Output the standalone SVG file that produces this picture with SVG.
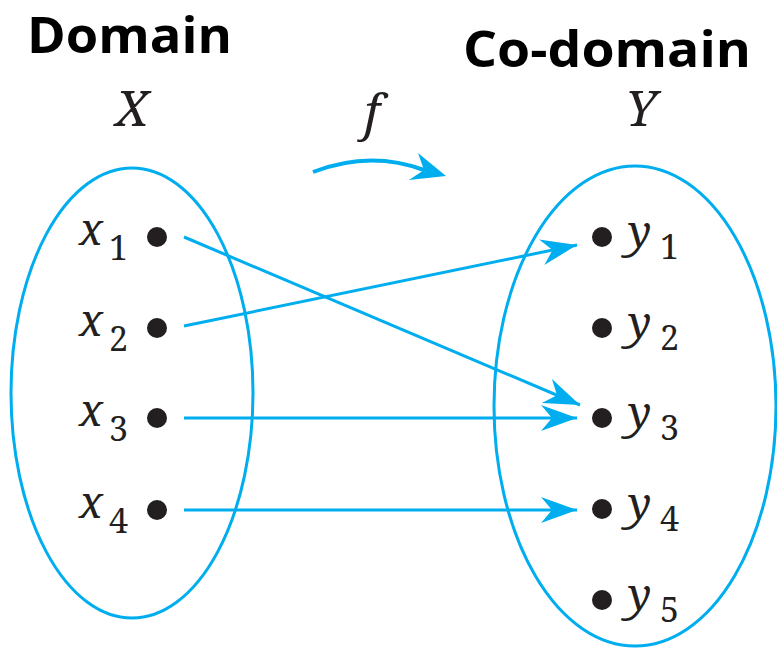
<svg xmlns="http://www.w3.org/2000/svg" width="777" height="648" viewBox="0 0 777 648">
<style>
.title{font-weight:bold;font-size:51px;fill:#000}
.big{font-style:italic;font-size:50px;fill:#231F20}
.math{font-style:italic;font-size:44px;fill:#231F20}
.sub{font-size:34px;fill:#231F20}
.set{fill:none;stroke:#00AEEF;stroke-width:3}
.edge{fill:none;stroke:#00AEEF;stroke-width:3;marker-end:url(#ah)}
.dot{fill:#231F20}
</style>
<defs>
<marker id="ah" markerUnits="userSpaceOnUse" markerWidth="40" markerHeight="30" refX="36" refY="14" orient="auto" viewBox="0 0 40 30">
<path d="M0,1 L36,14 L0,27 L11,14 Z" fill="#00AEEF"/>
</marker>
</defs>
<g id="titles">
<text class="title" font-family="Open Sans" x="27" y="53" textLength="205" lengthAdjust="spacingAndGlyphs">Domain</text>
<text class="title" font-family="Open Sans" x="463" y="67" textLength="288" lengthAdjust="spacingAndGlyphs">Co-domain</text>
</g>
<g id="setlabels">
<text class="big" font-family="Noto Serif" x="132" y="126" text-anchor="middle">X</text>
<text class="big" font-family="Noto Serif" x="641" y="126" text-anchor="middle">Y</text>
<text class="big" font-family="Noto Serif" x="372" y="130" text-anchor="middle">f</text>
</g>
<g id="fmap">
<path d="M313,172 Q370,150 424,170" fill="none" stroke="#00AEEF" stroke-width="4"/>
<polygon points="446,176 418,153 424,170 409,180" fill="#00AEEF"/>
</g>
<g id="domain">
<ellipse class="set" cx="132" cy="393" rx="121" ry="225"/>
</g>
<g id="codomain">
<ellipse class="set" cx="635" cy="406" rx="141" ry="240"/>
</g>
<g id="x1"><circle class="dot" cx="157" cy="237" r="10"/><text class="math" font-family="Noto Serif" x="79" y="245">x</text><text class="sub" font-family="Noto Serif" x="109" y="260">1</text></g>
<g id="x2"><circle class="dot" cx="157" cy="328" r="10"/><text class="math" font-family="Noto Serif" x="79" y="336">x</text><text class="sub" font-family="Noto Serif" x="109" y="351">2</text></g>
<g id="x3"><circle class="dot" cx="157" cy="418" r="10"/><text class="math" font-family="Noto Serif" x="79" y="426">x</text><text class="sub" font-family="Noto Serif" x="109" y="441">3</text></g>
<g id="x4"><circle class="dot" cx="157" cy="510" r="10"/><text class="math" font-family="Noto Serif" x="79" y="518">x</text><text class="sub" font-family="Noto Serif" x="109" y="533">4</text></g>
<g id="y1"><circle class="dot" cx="602" cy="237" r="10"/><text class="math" font-family="Noto Serif" x="628" y="247">y</text><text class="sub" font-family="Noto Serif" x="660" y="259">1</text></g>
<g id="y2"><circle class="dot" cx="602" cy="328" r="10"/><text class="math" font-family="Noto Serif" x="628" y="338">y</text><text class="sub" font-family="Noto Serif" x="660" y="350">2</text></g>
<g id="y3"><circle class="dot" cx="602" cy="418" r="10"/><text class="math" font-family="Noto Serif" x="628" y="428">y</text><text class="sub" font-family="Noto Serif" x="660" y="440">3</text></g>
<g id="y4"><circle class="dot" cx="602" cy="509" r="10"/><text class="math" font-family="Noto Serif" x="628" y="519">y</text><text class="sub" font-family="Noto Serif" x="660" y="531">4</text></g>
<g id="y5"><circle class="dot" cx="602" cy="600" r="10"/><text class="math" font-family="Noto Serif" x="628" y="610">y</text><text class="sub" font-family="Noto Serif" x="660" y="622">5</text></g>
<g id="connectors">
<line class="edge" x1="184" y1="237" x2="580" y2="405"/>
<line class="edge" x1="184" y1="326" x2="577" y2="245"/>
<line class="edge" x1="184" y1="418" x2="577" y2="418"/>
<line class="edge" x1="184" y1="510" x2="577" y2="510"/>
</g>
</svg>
